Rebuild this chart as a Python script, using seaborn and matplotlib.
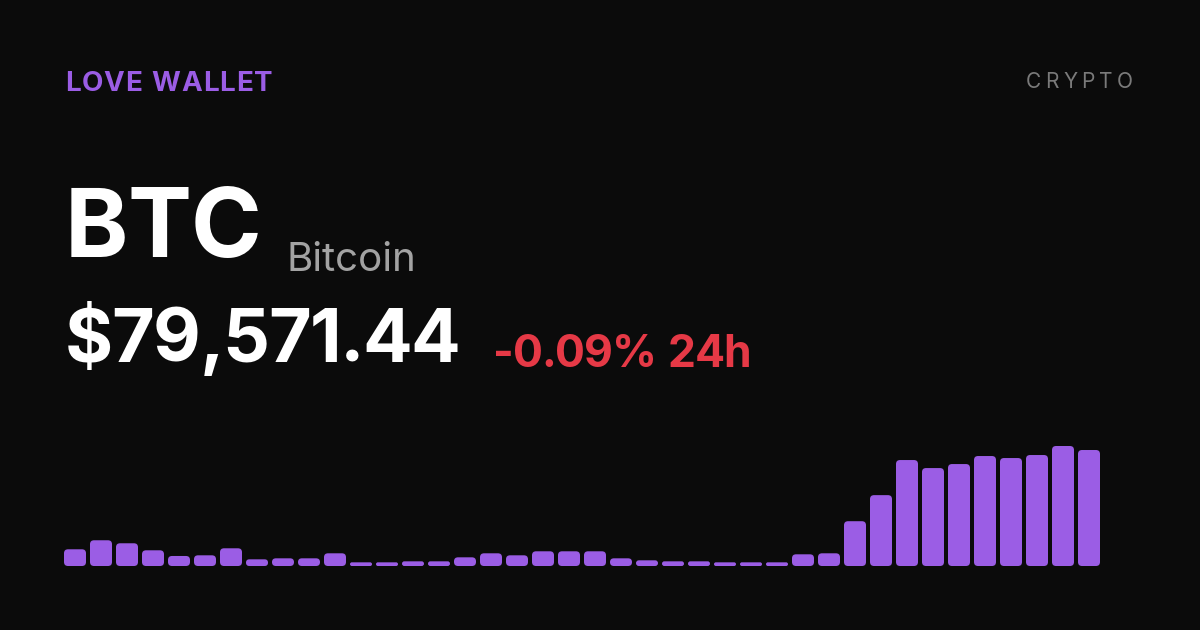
import matplotlib
matplotlib.use("Agg")
import matplotlib.pyplot as plt
from matplotlib.patches import FancyBboxPatch
import seaborn as sns
import pandas as pd
import numpy as np

# ---- data ----
brand = "LOVE WALLET"
category = "CRYPTO"
symbol = "BTC"
name = "Bitcoin"
price = "$79,571.44"
change = "-0.09% 24h"
bar_values = [50, 77, 68, 47, 30, 32, 53, 20, 23, 23,
              38, 11, 11, 14, 14, 26, 38, 32, 44, 44,
              44, 23, 17, 14, 14, 11, 11, 11, 35, 38,
              134, 212, 317, 293, 305, 329, 323, 332, 359, 347]

BG = "#0b0b0b"
PURPLE = "#9b5de5"
W, H, DPI = 1200, 630, 100

sns.set_theme(style="dark")
plt.rcParams["font.family"] = ["Inter", "DejaVu Sans"]

fig = plt.figure(figsize=(W / DPI, H / DPI), dpi=DPI, facecolor=BG)

# bar axes in pixel layout
left, right, base, top = 64, 1100, 566, 446
ax = fig.add_axes([left / W, (H - base) / H, (right - left) / W, (base - top) / H])
ax.set_facecolor(BG)
df = pd.DataFrame({"i": np.arange(len(bar_values)), "v": bar_values})
bw = 22 / 26
sns.barplot(data=df, x="i", y="v", color=PURPLE, width=bw, saturation=1, ax=ax, legend=False)
ax.set_xlim(-bw / 2, len(bar_values) - 1 + bw / 2)
ax.set_ylim(0, max(bar_values))
ax.axis("off")

# rounded corners
xpx = (right - left) / (len(bar_values) - 1 + bw)  # px per x unit
ypx = (base - top) / max(bar_values)                 # px per y unit
for p in list(ax.patches):
    x0, y0 = p.get_x(), p.get_y()
    w, h = p.get_width(), p.get_height()
    hpx = h * ypx
    r_px = min(4.0, hpx / 2.0)
    r = r_px / xpx
    aspect = (1 / ypx) / (1 / xpx)
    fb = FancyBboxPatch((x0, y0), w, h,
                        boxstyle=f"round,pad=0,rounding_size={r}",
                        mutation_aspect=aspect,
                        facecolor=PURPLE, edgecolor="none", linewidth=0)
    p.remove()
    ax.add_patch(fb)

renderer = fig.canvas.get_renderer()


def char_width(ch, **kw):
    if ch == " ":
        return kw.get("fontsize", 10) * DPI / 72 * 0.28
    t = fig.text(0, 0, ch, **kw)
    wd = t.get_window_extent(renderer=renderer).width
    t.remove()
    return wd


def spaced_text(x, y, s, spacing, **kw):
    cx = x
    for ch in s:
        wd = char_width(ch, **kw)
        if ch != " ":
            fig.text(cx / W, (H - y) / H, ch, va="baseline", ha="left", **kw)
        cx += wd + spacing
    return cx


def right_spaced_text(xr, y, s, spacing, **kw):
    total = sum(char_width(ch, **kw) + spacing for ch in s) - spacing
    spaced_text(xr - total, y, s, spacing, **kw)


spaced_text(65, 91.3, brand, 0.8, fontsize=20, fontweight="bold", color=PURPLE)
right_spaced_text(1133, 87.7, category, 4.3, fontsize=15, color="#7a7a7a")

spaced_text(65, 256.7, symbol, -1.0, fontsize=69, fontweight="bold", color="white")
fig.text(287 / W, (H - 270.7) / H, name, fontsize=29, color="#a3a3a3",
         va="baseline", ha="left")
spaced_text(65, 362, price, -1.5, fontsize=53, fontweight="bold", color="white")
spaced_text(493, 367, change, -1.0, fontsize=32, fontweight="bold", color="#e63946")

fig.savefig("out.png", dpi=DPI, facecolor=BG)
